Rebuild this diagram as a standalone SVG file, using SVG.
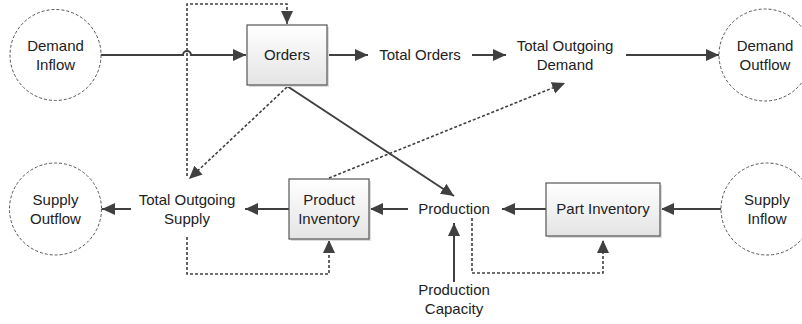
<svg xmlns="http://www.w3.org/2000/svg" width="802" height="324" viewBox="0 0 802 324">
<defs>
<linearGradient id="g" x1="0" y1="0" x2="0" y2="1">
<stop offset="0" stop-color="#ffffff"/>
<stop offset="1" stop-color="#e4e4e4"/>
</linearGradient>
<marker id="a" markerUnits="userSpaceOnUse" markerWidth="14" markerHeight="14" viewBox="0 0 14 14" refX="13" refY="7" orient="auto">
<path d="M0,1 L13,7 L0,13 z" fill="#404040"/>
</marker>
</defs>
<style>
.t{font-family:"Liberation Sans",Arial,sans-serif;font-size:15px;fill:#222;text-anchor:middle}
.c{fill:#fff;stroke:#555;stroke-width:1;stroke-dasharray:3,2}
.b{fill:url(#g);stroke:#555;stroke-width:1.2}
.s{fill:#dcdcdc;stroke:none}
.l{fill:none;stroke:#404040;stroke-width:2}
.d{fill:none;stroke:#404040;stroke-width:1.6;stroke-dasharray:3,2}
</style>
<rect width="802" height="324" fill="#fff"/>
<g id="connectors">
<path class="l" d="M101,55 H183 A4,4 0 0 1 191,55 H246" marker-end="url(#a)"/>
<path class="d" d="M187,176 V4 H287 V24" marker-end="url(#a)"/>
<path class="l" d="M327,55 H368" marker-end="url(#a)"/>
<path class="l" d="M472,55 H506" marker-end="url(#a)"/>
<path class="l" d="M626,55 H719" marker-end="url(#a)"/>
<path class="d" d="M287,87 L189,179" marker-end="url(#a)"/>
<path class="d" d="M329,178 L565,83" marker-end="url(#a)"/>
<path class="l" d="M287,86 L454,196" marker-end="url(#a)"/>
<path class="l" d="M131,209 H102" marker-end="url(#a)"/>
<path class="l" d="M289,209 H245" marker-end="url(#a)"/>
<path class="l" d="M408,209 H370" marker-end="url(#a)"/>
<path class="l" d="M546,209 H502" marker-end="url(#a)"/>
<path class="l" d="M722,209 H661" marker-end="url(#a)"/>
<path class="l" d="M454,282 V223" marker-end="url(#a)"/>
<path class="d" d="M472,218 V273 H603 V240" marker-end="url(#a)"/>
<path class="d" d="M187,237 V274 H329 V240" marker-end="url(#a)"/>
</g>
<g id="demand-inflow">
<circle class="c" cx="55.5" cy="55" r="45.5"/>
<text class="t" x="55.5" y="51">Demand</text>
<text class="t" x="55.5" y="70">Inflow</text>
</g>
<g id="orders">
<rect class="s" x="249" y="27" width="80" height="60"/>
<rect class="b" x="247" y="25" width="80" height="60"/>
<text class="t" x="287" y="60">Orders</text>
</g>
<g id="total-orders">
<text class="t" x="420" y="60">Total Orders</text>
</g>
<g id="total-outgoing-demand">
<text class="t" x="565" y="51">Total Outgoing</text>
<text class="t" x="565" y="70">Demand</text>
</g>
<g id="demand-outflow">
<circle class="c" cx="765" cy="55" r="46"/>
<text class="t" x="765" y="51">Demand</text>
<text class="t" x="765" y="70">Outflow</text>
</g>
<g id="supply-outflow">
<circle class="c" cx="55.5" cy="209" r="46"/>
<text class="t" x="55.5" y="205">Supply</text>
<text class="t" x="55.5" y="224">Outflow</text>
</g>
<g id="total-outgoing-supply">
<text class="t" x="187" y="205">Total Outgoing</text>
<text class="t" x="187" y="224">Supply</text>
</g>
<g id="product-inventory">
<rect class="s" x="291" y="181" width="80" height="60"/>
<rect class="b" x="289" y="179" width="80" height="60"/>
<text class="t" x="329" y="205">Product</text>
<text class="t" x="329" y="224">Inventory</text>
</g>
<g id="production">
<text class="t" x="454" y="214">Production</text>
</g>
<g id="part-inventory">
<rect class="s" x="548" y="185" width="114" height="53"/>
<rect class="b" x="546" y="183" width="114" height="53"/>
<text class="t" x="603" y="214">Part Inventory</text>
</g>
<g id="supply-inflow">
<circle class="c" cx="767" cy="209" r="46"/>
<text class="t" x="767" y="205">Supply</text>
<text class="t" x="767" y="224">Inflow</text>
</g>
<g id="production-capacity">
<text class="t" x="454" y="295">Production</text>
<text class="t" x="454" y="314">Capacity</text>
</g>
</svg>
